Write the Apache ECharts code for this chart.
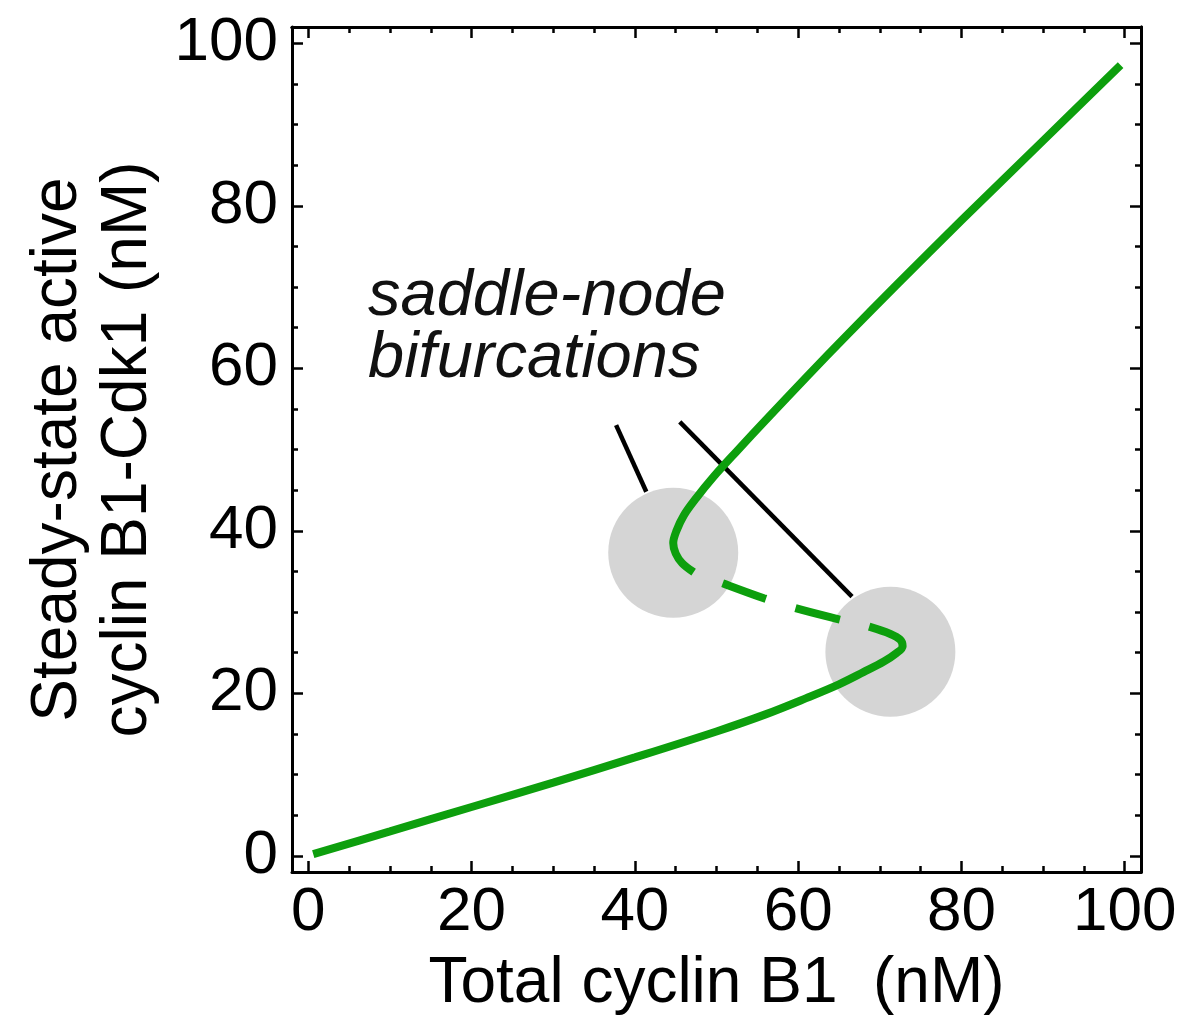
<!DOCTYPE html>
<html>
<head>
<meta charset="utf-8">
<script src="https://cdn.jsdelivr.net/npm/echarts@6/dist/echarts.min.js"></script>
<style>
  html, body { margin: 0; padding: 0; background: #fff; }
  #chart { width: 1198px; height: 1035px; }
</style>
</head>
<body>
<div id="chart"></div>
<script>
// axis ticks
const majorTicks = [0, 20, 40, 60, 80, 100]
const minorTicks = [0, 5, 10, 15, 20, 25, 30, 35, 40, 45, 50, 55, 60, 65, 70, 75, 80, 85, 90, 95, 100]

// steady-state curve, [total cyclin B1, active cyclin B1-Cdk1]
const upperStable = [[99.5, 97.3], [90, 88], [80, 78.2], [72, 70.2], [66, 64.1], [61, 58.9], [56.3, 53.9],
  [52.4, 49.7], [49.6, 46.6], [47.5, 44], [46, 41.9], [45.1, 40], [44.7, 38.5], [45, 37.2], [45.8, 36], [47.2, 34.9]]
const middleUnstable = [[47.2, 34.9], [50.6, 33.6], [55.8, 31.7], [59.6, 30.5], [65, 29.1], [68.7, 28.2]]
const lowerStable = [[68.7, 28.2], [71.3, 27.3], [72.5, 26.6], [72.8, 25.8], [72, 24.9], [70.5, 23.9],
  [68, 22.6], [65, 21.1], [61, 19.4], [56, 17.4], [50, 15.3], [40, 12.1], [30, 9], [20, 6], [10, 3], [0.6, 0.2]]

// saddle-node markers and pointer lines
const bifurcationPoints = [[44.7, 37.3], [71.3, 25.1]]
const pointerA = [[37.7, 53], [41.4, 44.8]]
const pointerB = [[45.5, 53.4], [66.6, 31.9]]

const FONT = 'Liberation Sans'
const green = '#0d9f0d'

const chart = echarts.init(document.getElementById('chart'), null, {renderer: 'canvas'})

function xAx(pos, ticks, len, labels, name) {
  return {
    type: 'value', position: pos, min: -2, max: 102,
    axisLine: {show: !!labels || pos === 'top', onZero: false, lineStyle: {color: '#000', width: 3}},
    axisTick: {show: true, inside: true, length: len, customValues: ticks, lineStyle: {color: '#000', width: 2.5}},
    axisLabel: {show: !!labels, customValues: majorTicks, margin: 10, color: '#000', fontFamily: FONT, fontSize: 62},
    splitLine: {show: false},
    name: name || '', nameLocation: 'middle', nameGap: 80,
    nameTextStyle: {color: '#000', fontFamily: FONT, fontSize: 64}
  }
}
function yAx(pos, ticks, len, labels, name) {
  return {
    type: 'value', position: pos, min: -2, max: 102,
    axisLine: {show: !!labels || pos === 'right', onZero: false, lineStyle: {color: '#000', width: 3}},
    axisTick: {show: true, inside: true, length: len, customValues: ticks, lineStyle: {color: '#000', width: 2.5}},
    axisLabel: {show: !!labels, customValues: majorTicks, margin: 14, color: '#000', fontFamily: FONT, fontSize: 62},
    splitLine: {show: false},
    name: name || '', nameLocation: 'middle', nameGap: 126,
    nameTextStyle: {color: '#000', fontFamily: FONT, fontSize: 64, lineHeight: 70}
  }
}

chart.setOption({
  animation: false,
  backgroundColor: '#fff',
  grid: {left: 292, top: 27, right: 57, bottom: 163, containLabel: false},
  xAxis: [
    xAx('bottom', majorTicks, 11, true, 'Total cyclin B1  (nM)'),
    xAx('bottom', minorTicks, 6, false),
    xAx('top', majorTicks, 11, false),
    xAx('top', minorTicks, 6, false)
  ],
  yAxis: [
    yAx('left', majorTicks, 11, true, 'Steady-state active\ncyclin B1-Cdk1 (nM)'),
    yAx('left', minorTicks, 6, false),
    yAx('right', majorTicks, 11, false),
    yAx('right', minorTicks, 6, false)
  ],
  graphic: [{
    type: 'text', left: 368, top: 264,
    style: {text: 'saddle-node\nbifurcations', font: 'italic 65px "Liberation Sans"', lineHeight: 62, fill: '#111'}
  }],
  series: [
    {type: 'scatter', data: bifurcationPoints, symbolSize: 130, itemStyle: {color: '#d5d5d5', opacity: 1}, silent: true, z: 1},
    {type: 'line', data: pointerA, symbol: 'none', lineStyle: {color: '#000', width: 4.5}, silent: true, z: 2},
    {type: 'line', data: pointerB, symbol: 'none', lineStyle: {color: '#000', width: 4.5}, silent: true, z: 2},
    {type: 'line', data: upperStable, symbol: 'none', smooth: 0.35, lineStyle: {color: green, width: 8}, silent: true, z: 3},
    {type: 'line', data: middleUnstable, symbol: 'none', smooth: 0.35,
      lineStyle: {color: green, width: 8, type: [46, 31], dashOffset: 46}, silent: true, z: 3},
    {type: 'line', data: lowerStable, symbol: 'none', smooth: 0.35, lineStyle: {color: green, width: 8}, silent: true, z: 3}
  ]
})

window.addEventListener('resize', () => chart.resize())
</script>
</body>
</html>
